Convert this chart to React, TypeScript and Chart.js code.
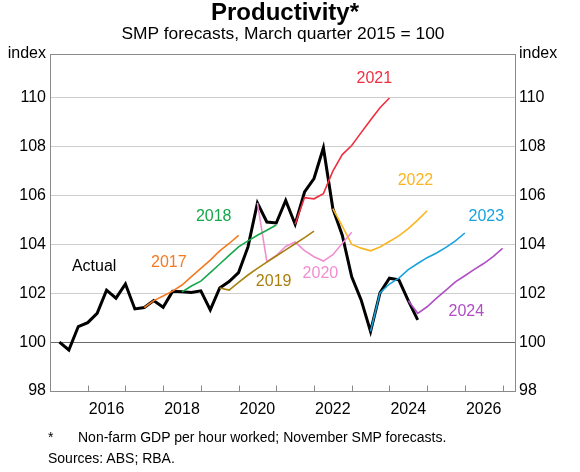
import React, { useEffect, useRef } from 'react';
import { Chart, registerables } from 'chart.js';

Chart.register(...registerables);

const FONT = 'Arial, "Liberation Sans", sans-serif';

const titleText = 'Productivity*';
const subtitleText = 'SMP forecasts, March quarter 2015 = 100';
const footnoteMark = '*';
const footnoteText = 'Non-farm GDP per hour worked; November SMP forecasts.';
const sourcesText = 'Sources: ABS; RBA.';

const yMin = 98;
const yMax = 111.8;
const yTickValues = [98, 100, 102, 104, 106, 108, 110];
const yTopLabel = 'index';
const yearTickMarks = [2016, 2017, 2018, 2019, 2020, 2021, 2022, 2023, 2024, 2025, 2026, 2027];
const yearLabels = [2016, 2018, 2020, 2022, 2024, 2026];

// Quarterly series (first quarter given, then one value per quarter)
const actualStart = 'Mar-2015';
const actualValues = [
  100.0, 99.68, 100.64, 100.8, 101.18, 102.13, 101.8, 102.38, 101.36, 101.42,
  101.7, 101.43, 102.08, 102.06, 102.03, 102.1, 101.32, 102.22, 102.48, 102.85,
  103.9, 105.7, 104.92, 104.88, 105.8, 104.83, 106.15, 106.7, 107.96, 105.47,
  104.38, 102.68, 101.73, 100.44, 102.02, 102.62, 102.55, 101.7, 100.91,
];

const f2017Start = 'Jun-2017';
const f2017 = [101.42, 101.7, 101.89, 102.09, 102.34, 102.68, 103.02, 103.36, 103.74, 104.04, 104.37];
const f2018Start = 'Jun-2018';
const f2018 = [102.06, 102.3, 102.5, 102.85, 103.2, 103.55, 103.9, 104.15, 104.38, 104.58, 104.8];
const f2019Start = 'Jun-2019';
const f2019 = [102.22, 102.13, 102.45, 102.75, 103.02, 103.28, 103.53, 103.78, 104.03, 104.28, 104.55];
const f2020Start = 'Jun-2020';
const f2020 = [105.7, 103.3, 103.55, 103.92, 104.1, 103.75, 103.5, 103.32, 103.58, 104.04, 104.5];
const f2021Start = 'Jun-2021';
const f2021 = [104.83, 105.92, 105.87, 106.08, 107.0, 107.68, 108.05, 108.58, 109.1, 109.6, 110.0];
const f2022Start = 'Jun-2022';
const f2022 = [105.47, 104.75, 104.0, 103.85, 103.74, 103.9, 104.12, 104.35, 104.65, 105.0, 105.38];
const f2023Start = 'Jun-2023';
const f2023 = [100.44, 102.02, 102.38, 102.62, 102.97, 103.22, 103.46, 103.65, 103.88, 104.15, 104.47];
const f2024Start = 'Jun-2024';
const f2024 = [101.7, 101.18, 101.45, 101.8, 102.13, 102.47, 102.72, 102.98, 103.22, 103.5, 103.84];

const seriesNames = ['Actual', '2017', '2018', '2019', '2020', '2021', '2022', '2023', '2024'];
const seriesColors = ['#000000', '#F47A22', '#15A84A', '#A8800F', '#F08ED2', '#EF2F3F', '#FBB521', '#17A3E0', '#B04EC4'];

// Label anchors in data units (year, index)
const labelX = [2016.17, 2018.15, 2019.34, 2020.93, 2022.17, 2023.6, 2024.69, 2026.57, 2026.04];
const labelY = [103.11, 103.27, 105.15, 102.5, 102.79, 110.79, 106.62, 105.16, 101.24];

const MONTHS: Record<string, number> = { Mar: 3, Jun: 6, Sep: 9, Dec: 12 };

function toPoints(start: string, values: number[]) {
  const [m, y] = start.split('-');
  const x0 = Number(y) + MONTHS[m] / 12;
  return values.map((v, i) => ({ x: x0 + i * 0.25, y: v }));
}

const decorPlugin = {
  id: 'decor',
  afterDatasetsDraw(chart: any) {
    const { ctx, chartArea: a, scales } = chart;
    const xs = scales.x;
    const ys = scales.y;
    ctx.save();
    ctx.strokeStyle = '#8a8a8a';
    ctx.lineWidth = 1;
    const l = Math.round(a.left) + 0.5;
    const t = Math.round(a.top) + 0.5;
    const r = Math.round(a.right) + 0.5;
    const b = Math.round(a.bottom) + 0.5;
    ctx.strokeRect(l, t, r - l, b - t);
    ctx.beginPath();
    for (const yr of yearTickMarks) {
      const px = Math.round(xs.getPixelForValue(yr)) + 0.5;
      ctx.moveTo(px, b);
      ctx.lineTo(px, b - 6);
    }
    ctx.stroke();
    ctx.font = '16px ' + FONT;
    ctx.textAlign = 'center';
    ctx.textBaseline = 'middle';
    seriesNames.forEach((name, i) => {
      ctx.fillStyle = seriesColors[i];
      ctx.fillText(name, xs.getPixelForValue(labelX[i]), ys.getPixelForValue(labelY[i]));
    });
    ctx.restore();
  },
};

export default function App() {
  const ref = useRef<HTMLCanvasElement | null>(null);

  useEffect(() => {
    document.body.style.margin = '0';
    const canvas = ref.current;
    if (!canvas) return;
    const forecasts = [
      toPoints(f2017Start, f2017),
      toPoints(f2018Start, f2018),
      toPoints(f2019Start, f2019),
      toPoints(f2020Start, f2020),
      toPoints(f2021Start, f2021),
      toPoints(f2022Start, f2022),
      toPoints(f2023Start, f2023),
      toPoints(f2024Start, f2024),
    ];
    const datasets: any[] = forecasts.map((pts, i) => ({
      label: seriesNames[i + 1],
      data: pts,
      borderColor: seriesColors[i + 1],
      backgroundColor: seriesColors[i + 1],
      borderWidth: 1.6,
      pointRadius: 0,
      tension: 0,
      order: 1,
    }));
    datasets.push({
      label: seriesNames[0],
      data: toPoints(actualStart, actualValues),
      borderColor: seriesColors[0],
      backgroundColor: seriesColors[0],
      borderWidth: 3,
      pointRadius: 0,
      tension: 0,
      order: 10,
    });

    const yAxisCommon = {
      type: 'linear',
      min: yMin,
      max: yMax,
      afterBuildTicks: (s: any) => {
        s.ticks = [...yTickValues, yMax].map((v) => ({ value: v }));
      },
      ticks: {
        callback: (v: any) => (v === yMax ? yTopLabel : String(v)),
        color: '#000',
        font: { size: 16, family: FONT },
        padding: 4,
      },
      border: { display: false },
    };

    const chart = new Chart(canvas, {
      type: 'line',
      data: { datasets },
      options: {
        animation: false,
        responsive: false,
        devicePixelRatio: 1,
        layout: { padding: { top: 54, bottom: 51, left: 0, right: 0 } },
        plugins: { legend: { display: false }, tooltip: { enabled: false } },
        scales: {
          x: {
            type: 'linear',
            min: 2015,
            max: 2027.33,
            afterBuildTicks: (s: any) => {
              s.ticks = yearLabels.map((v) => ({ value: v + 0.5 }));
            },
            ticks: {
              callback: (v: any) => String(Math.floor(v)),
              autoSkip: false,
              maxRotation: 0,
              color: '#000',
              font: { size: 16, family: FONT },
              padding: 9,
            },
            grid: { display: false, drawTicks: false },
            border: { display: false },
            afterFit: (s: any) => {
              s.height = 30;
            },
          },
          y: {
            ...yAxisCommon,
            position: 'left',
            grid: {
              drawTicks: false,
              lineWidth: 1,
              color: (c: any) =>
                c.tick && c.tick.value === 100
                  ? '#6a6a6a'
                  : c.tick && (c.tick.value === yMin || c.tick.value === yMax)
                  ? 'rgba(0,0,0,0)'
                  : '#cdcdcd',
            },
            afterFit: (s: any) => {
              s.width = 50;
            },
          },
          y2: {
            ...yAxisCommon,
            position: 'right',
            grid: { display: false, drawTicks: false },
            afterFit: (s: any) => {
              s.width = 65;
            },
          },
        },
      } as any,
      plugins: [decorPlugin],
    });
    return () => chart.destroy();
  }, []);

  const textBase: React.CSSProperties = {
    position: 'absolute',
    fontFamily: FONT,
    color: '#000',
    whiteSpace: 'nowrap',
  };

  return (
    <div style={{ position: 'relative', width: 580, height: 472, overflow: 'hidden', background: '#fff' }}>
      <canvas ref={ref} width={580} height={472} style={{ display: 'block', width: 580, height: 472 }} />
      <div style={{ ...textBase, left: 0, width: 570, top: -1, textAlign: 'center', fontSize: 24, fontWeight: 'bold', lineHeight: '26px' }}>
        {titleText}
      </div>
      <div style={{ ...textBase, left: 0, width: 566, top: 23, textAlign: 'center', fontSize: 17.4, lineHeight: '20px' }}>
        {subtitleText}
      </div>
      <div style={{ ...textBase, left: 48, top: 428, fontSize: 14, lineHeight: '18px' }}>{footnoteMark}</div>
      <div style={{ ...textBase, left: 78, top: 428, fontSize: 14, lineHeight: '18px' }}>{footnoteText}</div>
      <div style={{ ...textBase, left: 48, top: 449, fontSize: 14, lineHeight: '18px' }}>{sourcesText}</div>
    </div>
  );
}
